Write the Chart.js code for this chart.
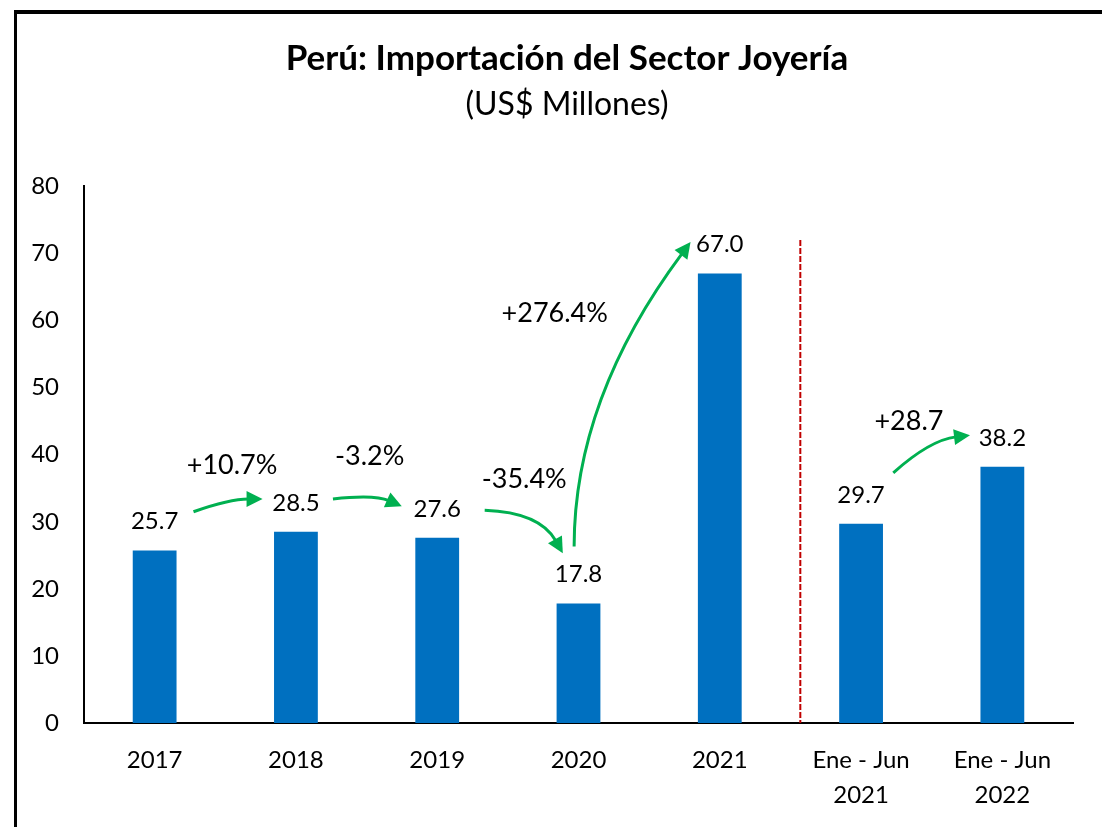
<!DOCTYPE html>
<html>
<head>
<meta charset="utf-8">
<script src="https://cdn.jsdelivr.net/npm/chart.js@4.4.0/dist/chart.umd.min.js"></script>
<style>
  html, body { margin: 0; padding: 0; width: 1102px; height: 827px; overflow: hidden; background: #fff; }
  #wrap { position: absolute; left: 0; top: 0; width: 1134px; height: 827px; }
  #frame { position: absolute; left: 14px; top: 10px; width: 1120px; height: 830px;
           border-left: 3px solid #000; border-top: 4px solid #000; pointer-events: none; }
</style>
</head>
<body>
<div id="wrap"><canvas id="joyeria"></canvas></div>
<div id="frame"></div>
<script>
const categorias = [["2017"], ["2018"], ["2019"], ["2020"], ["2021"], ["Ene - Jun", "2021"], ["Ene - Jun", "2022"]];
const importaciones = [25.7, 28.5, 27.6, 17.8, 67.0, 29.7, 38.2];
const variaciones = ["+10.7%", "-3.2%", "-35.4%", "+276.4%", "+28.7"];
const yTicks = [0, 10, 20, 30, 40, 50, 60, 70, 80];

const FONT = "Lato";
const VERDE = "#00B050";

// flechas en coordenadas de datos: [inicio], [control], [punta]  (x = indice de categoria, y = valor)
const flechas = [
    { p0: [0.275, 31.5], c: [0.53, 33.4], p1: [0.764, 33.4], txt: [0.548, 38.4] },
    { p0: [1.262, 33.4], c: [1.557, 34.1], p1: [1.749, 32.3], txt: [1.522, 39.8] },
    { p0: [2.336, 31.7], c: [2.726, 31.4], p1: [2.889, 25.3], txt: [2.616, 36.4] },
    { p0: [2.969, 26.3], c: [2.969, 48.4], p1: [3.793, 71.7], txt: [2.832, 61.1] },
    { p0: [5.228, 37.3], c: [5.488, 42.2], p1: [5.771, 42.9], txt: [5.339, 45.0] },
];
const separador = { x: 4.57, desde: 0, hasta: 72 };

const etiquetas = {
    id: "etiquetas",
    afterDatasetsDraw(chart) {
        const ctx = chart.ctx;
        const xs = chart.scales.x, ys = chart.scales.y;
        ctx.save();

        // valores sobre las barras
        ctx.font = "24px " + FONT;
        ctx.fillStyle = "#000";
        ctx.textAlign = "center";
        ctx.textBaseline = "middle";
        chart.getDatasetMeta(0).data.forEach((bar, i) => {
            ctx.fillText(importaciones[i].toFixed(1), bar.x, bar.y - 29);
        });

        // linea separadora roja
        const sx = xs.getPixelForValue(separador.x);
        ctx.strokeStyle = "#C00000";
        ctx.lineWidth = 2;
        ctx.setLineDash([6, 2]);
        ctx.beginPath();
        ctx.moveTo(sx, ys.getPixelForValue(separador.hasta));
        ctx.lineTo(sx, ys.getPixelForValue(separador.desde));
        ctx.stroke();
        ctx.setLineDash([]);

        // flechas verdes y variaciones
        flechas.forEach((f, i) => {
            const px = (p) => [xs.getPixelForValue(p[0]), ys.getPixelForValue(p[1])];
            const a = px(f.p0), c = px(f.c), b = px(f.p1);
            const ang = Math.atan2(b[1] - c[1], b[0] - c[0]);
            const len = 16, half = 8;
            const e = [b[0] - Math.cos(ang) * (len - 2), b[1] - Math.sin(ang) * (len - 2)];
            ctx.strokeStyle = VERDE;
            ctx.fillStyle = VERDE;
            ctx.lineWidth = 3;
            ctx.beginPath();
            ctx.moveTo(a[0], a[1]);
            ctx.quadraticCurveTo(c[0], c[1], e[0], e[1]);
            ctx.stroke();
            ctx.beginPath();
            ctx.moveTo(b[0], b[1]);
            ctx.lineTo(b[0] - Math.cos(ang) * len - Math.sin(ang) * half, b[1] - Math.sin(ang) * len + Math.cos(ang) * half);
            ctx.lineTo(b[0] - Math.cos(ang) * len + Math.sin(ang) * half, b[1] - Math.sin(ang) * len - Math.cos(ang) * half);
            ctx.closePath();
            ctx.fill();

            const t = px(f.txt);
            ctx.fillStyle = "#000";
            ctx.font = "27px " + FONT;
            ctx.fillText(variaciones[i], t[0], t[1]);
        });
        ctx.restore();
    },
};

new Chart(document.getElementById("joyeria"), {
    type: "bar",
    data: {
        labels: categorias,
        datasets: [
            {
                label: "Importación",
                data: importaciones,
                backgroundColor: "#0070C0",
                barPercentage: 0.31,
                categoryPercentage: 1,
            },
        ],
    },
    options: {
        responsive: true,
        maintainAspectRatio: false,
        animation: false,
        layout: {
            padding: 0,
        },
        plugins: {
            legend: { display: false },
            tooltip: { enabled: false },
            title: {
                display: true,
                text: "Perú: Importación del Sector Joyería",
                color: "#000",
                font: { family: FONT, size: 35, weight: "bold", lineHeight: 1.2 },
                padding: { top: 38, bottom: 0 },
            },
            subtitle: {
                display: true,
                text: "(US$ Millones)",
                color: "#000",
                font: { family: FONT, size: 32, weight: "normal", lineHeight: 1.2 },
                padding: { top: 5, bottom: 63 },
            },
        },
        scales: {
            x: {
                grid: { display: false, drawTicks: false },
                border: { display: true, color: "#000", width: 2 },
                ticks: {
                    color: "#000",
                    font: { family: FONT, size: 24, lineHeight: 1.46 },
                    padding: 20,
                    maxRotation: 0,
                },
                afterFit(scale) { scale.height = 104; },
            },
            y: {
                min: 0,
                max: 80,
                grid: { display: false, drawTicks: false },
                border: { display: true, color: "#000", width: 2 },
                afterBuildTicks(scale) { scale.ticks = yTicks.map(v => ({ value: v })); },
                ticks: {
                    color: "#000",
                    font: { family: FONT, size: 24 },
                    padding: 25,
                },
                afterFit(scale) { scale.width = 84; },
            },
            margen: {
                position: "right",
                grid: { display: false, drawTicks: false },
                border: { display: false },
                ticks: { display: false },
                afterFit(scale) { scale.width = 61; },
            },
        },
    },
    plugins: [etiquetas],
});
</script>
</body>
</html>
